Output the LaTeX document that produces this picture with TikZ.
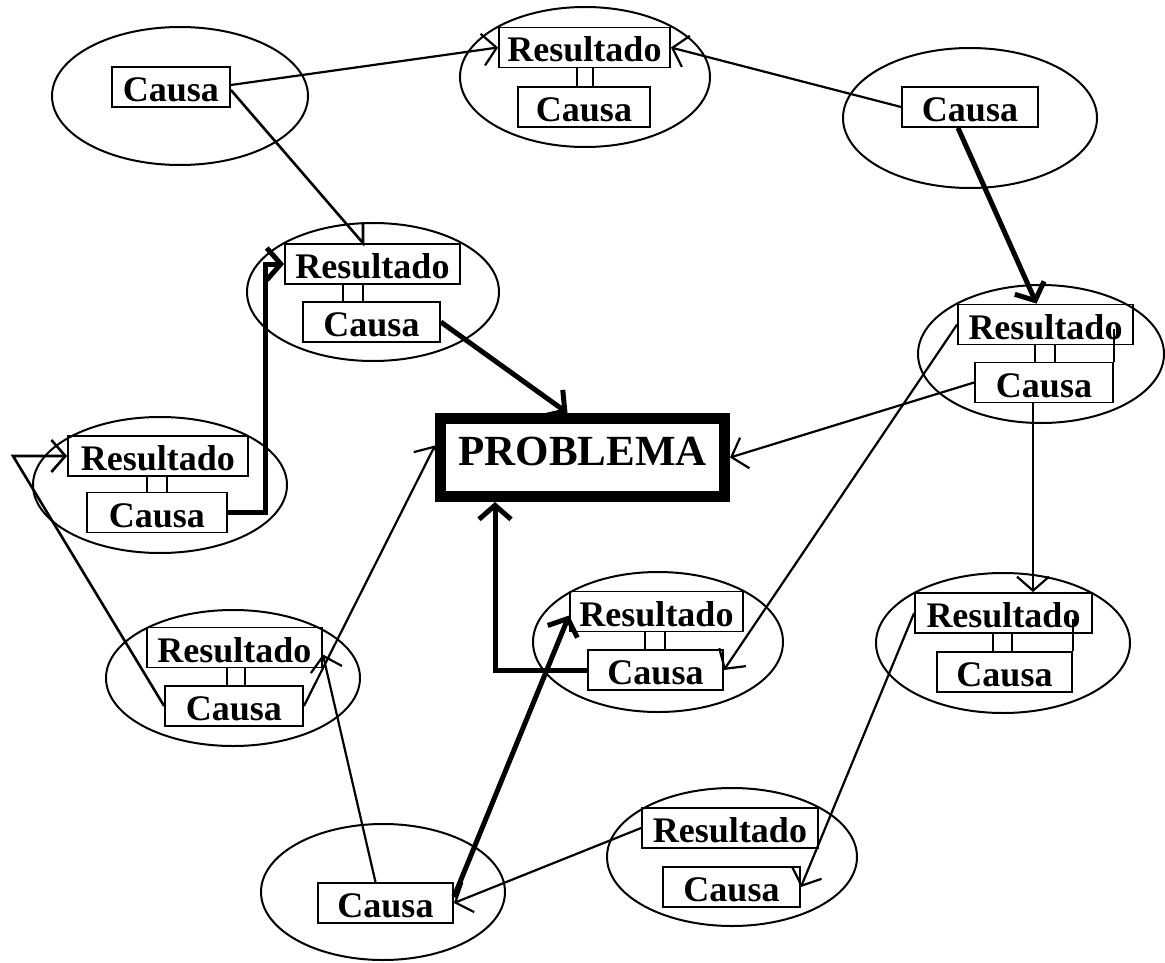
\documentclass[tikz,border=0pt]{standalone}
\usepackage{fontspec}
\setmainfont{Liberation Serif}
\usetikzlibrary{shapes.geometric,arrows.meta}
\newcommand\rcticks[4]{%
  \path (#1.south) ++(#3,0) coordinate (ta) (#1.south) ++(#4,0) coordinate (tb);
  \draw[rt] (ta) -- (ta |- #2.north) (tb) -- (tb |- #2.north);}
\begin{document}
\begin{tikzpicture}[x=1pt,y=-1pt,
  ell/.style={draw, ellipse, line width=2pt, inner sep=0pt},
  bx/.style={draw, rectangle, line width=1.8pt, inner xsep=0pt, inner ysep=3.5pt,
    text height=31pt, text depth=2pt, minimum height=40pt,
    font=\fontsize{36}{36}\selectfont\bfseries},
  rt/.style={line width=1.5pt},
  conn/.style={line width=2.2pt, -{Straight Barb[length=14pt,width=32pt]}},
  connmid/.style={line width=2.6pt, -{Straight Barb[length=14pt,width=32pt]}},
  connthick/.style={line width=5pt, -{Straight Barb[length=14pt,width=32pt]}},
  probbox/.style={draw, line width=11pt, minimum width=284pt, minimum height=78pt,
    inner sep=0pt, text height=30pt, text depth=14pt,
    font=\fontsize{43}{43}\selectfont\bfseries}]
\useasboundingbox (0,0) rectangle (1165,963);
\fill[white] (0,0) rectangle (1165,963);

% ellipses
\node[ell, minimum width=256pt, minimum height=138pt] (e1) at (180,96) {};
\node[ell, minimum width=250pt, minimum height=140pt] (e2) at (585,77) {};
\node[ell, minimum width=254pt, minimum height=140pt] (e3) at (970,118) {};
\node[ell, minimum width=252pt, minimum height=138pt] (e4) at (373,292) {};
\node[ell, minimum width=246pt, minimum height=138pt] (e5) at (1041,354) {};
\node[ell, minimum width=254pt, minimum height=136pt] (e6) at (160,485) {};
\node[ell, minimum width=254pt, minimum height=136pt] (e7) at (233,678) {};
\node[ell, minimum width=250pt, minimum height=140pt] (e8) at (658,642) {};
\node[ell, minimum width=254pt, minimum height=140pt] (e9) at (1003,643) {};
\node[ell, minimum width=244pt, minimum height=136pt] (e10) at (383,892) {};
\node[ell, minimum width=250pt, minimum height=138pt] (e11) at (732,857) {};

% boxes
\node[bx, minimum width=118pt] (c1) at (171,87) {Causa};
\node[bx, minimum width=171pt] (r2) at (584.5,47.5) {Resultado};
\node[bx, minimum width=132pt] (c2) at (584,107) {Causa};
\node[bx, minimum width=136pt] (c3) at (970,107) {Causa};
\node[bx, minimum width=175pt] (r4) at (372.5,264) {Resultado};
\node[bx, minimum width=137pt] (c4) at (371.5,322) {Causa};
\node[bx, minimum width=175pt] (r5) at (1045.5,324.5) {Resultado};
\node[bx, minimum width=138pt] (c5) at (1044,382.5) {Causa};
\node[bx, minimum width=180pt] (r6) at (158,456) {Resultado};
\node[bx, minimum width=140pt] (c6) at (157,512.5) {Causa};
\node[bx, minimum width=175pt] (r7) at (234.5,647.5) {Resultado};
\node[bx, minimum width=138pt] (c7) at (234,706) {Causa};
\node[bx, minimum width=173pt] (r8) at (656.5,611.5) {Resultado};
\node[bx, minimum width=135pt] (c8) at (655.5,670) {Causa};
\node[bx, minimum width=177pt] (r9) at (1003.5,613) {Resultado};
\node[bx, minimum width=135pt] (c9) at (1004.5,672) {Causa};
\node[bx, minimum width=135pt] (c10) at (385.5,903) {Causa};
\node[bx, minimum width=176pt] (r11) at (730,828) {Resultado};
\node[bx, minimum width=137pt] (c11) at (731.5,887) {Causa};

\node[probbox] (P) at (582.5,457.5) {PROBLEMA};

% little links between Resultado and Causa
\rcticks{r2}{c2}{-7.5}{8.5}
\rcticks{r4}{c4}{-29.5}{-9.5}
\rcticks{r5}{c5}{-10.5}{9.5}
\rcticks{r6}{c6}{-11}{9}
\rcticks{r7}{c7}{-7.5}{10.5}
\rcticks{r8}{c8}{-11.5}{8.5}
\rcticks{r9}{c9}{-10.5}{8.5}
\draw[rt] (c5.north east) -- ++(0,-33);
\draw[rt] (c9.north east) -- ++(0,-32);

% connectors
\coordinate (f1) at (265,0);
\coordinate (g1) at (13,456);
\draw[conn] ([yshift=2pt]c1.east) -- (r2.west);
\draw[conn] (c3.west) -- (r2.east);
\draw[line width=2.6pt] ([yshift=-3pt]c1.east) -- ([xshift=-9.5pt]r4.north) -- ++(0,-21);
\draw[connthick] ([xshift=-12pt]c3.south) -- ([xshift=-9pt]r5.north);
\draw[connthick] (c4.east) -- ([xshift=-15pt]P.north);
\draw[connthick] (c6.east) -- (c6.east -| f1) -- (r4.west -| f1) -- (r4.west);
\draw[connmid] (c7.west) -- (g1) -- (r6.west);
\draw[conn] (c7.east) -- ([yshift=12pt]P.west);
\draw[conn] ([xshift=-10pt]c10.north) -- ([yshift=-7pt]r7.east);
\draw[connthick] ([yshift=6pt]c10.east) -- ([yshift=-4pt]r8.west);
\draw[conn] (r11.west) -- (c10.east);
\draw[conn] (c5.west) -- (P.east);
\draw[conn] (r5.west) -- (c8.east);
\draw[conn] ([xshift=-11pt]c5.south) -- ([xshift=29.5pt]r9.north);
\draw[conn] (r9.west) -- (c11.east);
\draw[connthick] (c8.west) -| ([xshift=-87.5pt]P.south);
\end{tikzpicture}
\end{document}
